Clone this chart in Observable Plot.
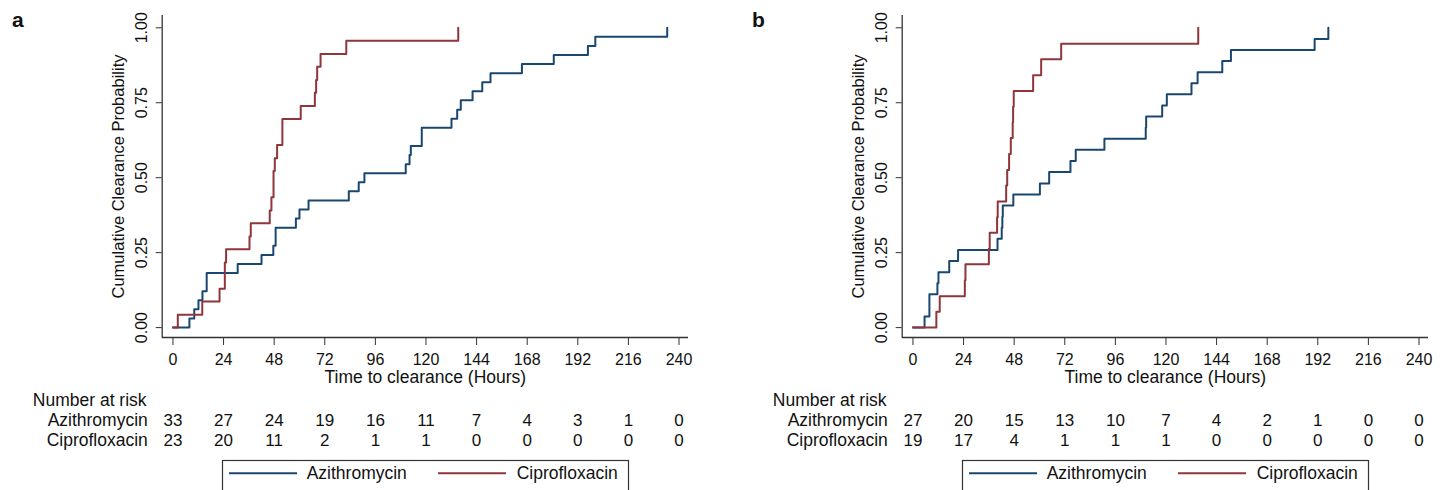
<!DOCTYPE html>
<html>
<head>
<meta charset="utf-8">
<script src="https://cdn.jsdelivr.net/npm/d3@7"></script>
<script src="https://cdn.jsdelivr.net/npm/@observablehq/plot@0.6"></script>
<style>
  body { margin: 0; background: #fff; }
  #root { position: relative; width: 1447px; height: 490px; overflow: hidden; background: #fff;
          font-family: "Liberation Sans", Arial, sans-serif; color: #111; }
  .panel { position: absolute; top: 0; width: 707px; height: 490px; }
  .panel svg { display: block; }
  .overlay { position: absolute; left: 0; top: 0; }
</style>
</head>
<body>
<div id="root"></div>
<script>
// ---------- data ----------
const groups = ["Azithromycin", "Ciprofloxacin"];
const colors = ["#1a476f", "#90353b"];
const timeTicks = [0, 24, 48, 72, 96, 120, 144, 168, 192, 216, 240];
const probTicks = [0, 0.25, 0.5, 0.75, 1];

// Panel a
const aAziTime = [0, 7.8, 10.1, 12.1, 14.0, 16.0, 30.7, 42.0, 47.6, 48.7, 58.3, 60.0, 64.3, 83.4, 88.1, 90.8, 110.4, 112.2, 112.8, 118.0, 132.1, 134.8, 136.5, 142.1, 146.7, 150.6, 165.5, 180.6, 196.8, 200.3, 234.4];
const aAziProb = [0, .030, .061, .091, .121, .182, .212, .242, .273, .333, .364, .394, .424, .455, .485, .515, .545, .576, .606, .667, .697, .727, .758, .788, .818, .848, .879, .909, .939, .970, 1];
const aCipTime = [0, 2.3, 13.9, 22.1, 24.6, 25.2, 36.3, 36.9, 45.9, 46.7, 47.7, 48.3, 49.4, 51.9, 60.6, 67.3, 67.9, 68.4, 70.0, 82.2, 135.3];
const aCipProb = [0, .043, .087, .130, .217, .261, .304, .348, .391, .435, .522, .565, .609, .696, .739, .783, .826, .870, .913, .957, 1];
const aRiskAzi = [33, 27, 24, 19, 16, 11, 7, 4, 3, 1, 0];
const aRiskCip = [23, 20, 11, 2, 1, 1, 0, 0, 0, 0, 0];

// Panel b
const bAziTime = [0, 5.5, 7.8, 11.6, 12.1, 17.2, 21.4, 40.1, 42.1, 42.4, 42.6, 47.6, 60.2, 64.6, 74.7, 77.2, 90.8, 110.4, 110.6, 118.2, 120.4, 132.1, 135.0, 146.7, 150.8, 190.5, 197.0];
const bAziProb = [0, .037, .111, .148, .185, .222, .259, .296, .333, .370, .407, .444, .481, .519, .556, .593, .630, .667, .704, .741, .778, .815, .852, .889, .926, .963, 1];
const bCipTime = [0, 11.1, 12.7, 24.6, 24.9, 36.0, 36.4, 39.9, 40.2, 44.2, 44.7, 45.6, 46.4, 47.3, 47.5, 47.8, 57.0, 60.8, 70.3, 135.3];
const bCipProb = [0, .053, .105, .158, .211, .263, .316, .368, .421, .474, .526, .579, .632, .684, .737, .789, .842, .895, .947, 1];
const bRiskAzi = [27, 20, 15, 13, 10, 7, 4, 2, 1, 0, 0];
const bRiskCip = [19, 17, 4, 1, 1, 1, 0, 0, 0, 0, 0];

const panels = [
  {label: "a", left: 0,   azi: [aAziTime, aAziProb], cip: [aCipTime, aCipProb], risk: [aRiskAzi, aRiskCip]},
  {label: "b", left: 740, azi: [bAziTime, bAziProb], cip: [bCipTime, bCipProb], risk: [bRiskAzi, bRiskCip]}
];

// ---------- layout ----------
const FONT = '"Liberation Sans", Arial, sans-serif';
const W = 707, ML = 161.7, MR = 19;
const xDomain = [-5.1, 244.5];
const yDomain = [-0.033, 1.041];
const axisColor = "#333";

function curvePlot(p) {
  const rows = [];
  p.azi[0].forEach((t, i) => rows.push({g: groups[0], t, v: p.azi[1][i]}));
  p.cip[0].forEach((t, i) => rows.push({g: groups[1], t, v: p.cip[1][i]}));
  return Plot.plot({
    width: W, height: 392,
    marginLeft: ML, marginRight: MR, marginTop: 15, marginBottom: 55,
    style: {fontFamily: FONT, fontSize: "16px", color: "#111", background: "#fff", overflow: "visible"},
    x: {domain: xDomain, axis: null},
    y: {domain: yDomain, axis: null},
    color: {domain: groups, range: colors},
    marks: [
      Plot.line(rows, {x: "t", y: "v", z: "g", stroke: "g", curve: "step-after", strokeWidth: 2}),
      Plot.ruleX([xDomain[0]], {stroke: axisColor, strokeWidth: 1.3}),
      Plot.ruleY([yDomain[0]], {stroke: axisColor, strokeWidth: 1.3}),
      Plot.axisX({ticks: timeTicks, tickSize: 8, tickPadding: 7.7, label: null, fontSize: 16, stroke: axisColor}),
      Plot.axisY({ticks: probTicks, tickSize: 6, tickRotate: -90, tickPadding: 9.7, tickFormat: d3.format(".2f"), label: null, fontSize: 16, stroke: axisColor}),
      Plot.text(["Time to clearance (Hours)"], {frameAnchor: "bottom", lineAnchor: "middle", textAnchor: "middle", dy: 40, fontSize: 17.5, fill: "#111"}),
      Plot.text(["Cumulative Clearance Probability"], {frameAnchor: "left", rotate: -90, textAnchor: "middle", lineAnchor: "middle", dx: -43.7, fontSize: 16.5, fill: "#111"})
    ]
  });
}

function riskPlot(p) {
  const rows = [];
  groups.forEach((g, k) => timeTicks.forEach((t, i) => rows.push({g, t, n: p.risk[k][i]})));
  return Plot.plot({
    width: W, height: 60,
    marginLeft: ML, marginRight: MR, marginTop: 27.3, marginBottom: 12.3,
    style: {fontFamily: FONT, fontSize: "17px", color: "#111", background: "#fff", overflow: "visible"},
    x: {domain: xDomain, axis: null},
    y: {type: "point", domain: groups, padding: 0, axis: null},
    marks: [
      Plot.text(rows, {x: "t", y: "g", text: "n", fontSize: 17, fill: "#111"}),
      Plot.axisY({tickSize: 0, tickPadding: 14.4, label: null, fontSize: 17.5}),
      Plot.text(["Number at risk"], {frameAnchor: "top-left", dx: 32.3 - ML, dy: -19.6, textAnchor: "start", lineAnchor: "middle", fontSize: 17.5, fill: "#111"})
    ]
  });
}

function overlay(p) {
  const svg = d3.create("svg").attr("class", "overlay").attr("width", W).attr("height", 490)
    .style("font-family", FONT);
  svg.append("text").attr("x", 12).attr("y", 26.5).attr("font-weight", "bold").attr("font-size", 21)
    .attr("fill", "#111").text(p.label);
  const lg = svg.append("g").attr("transform", "translate(222,460)");
  lg.append("rect").attr("x", 0.5).attr("y", 0.5).attr("width", 406).attr("height", 50)
    .attr("fill", "none").attr("stroke", axisColor).attr("stroke-width", 1.2);
  const lineX = [7, 216], textX = [84.7, 294.7];
  groups.forEach((g, i) => {
    lg.append("line").attr("x1", lineX[i]).attr("x2", lineX[i] + 68).attr("y1", 13.3).attr("y2", 13.3)
      .attr("stroke", colors[i]).attr("stroke-width", 2);
    lg.append("text").attr("x", textX[i]).attr("y", 13.3).attr("dy", "0.35em").attr("font-size", 17.5)
      .attr("fill", "#111").text(g);
  });
  return svg.node();
}

const root = document.getElementById("root");
panels.forEach(p => {
  const div = document.createElement("div");
  div.className = "panel";
  div.style.left = p.left + "px";
  div.appendChild(curvePlot(p));
  div.appendChild(riskPlot(p));
  div.appendChild(overlay(p));
  root.appendChild(div);
});
</script>
</body>
</html>
